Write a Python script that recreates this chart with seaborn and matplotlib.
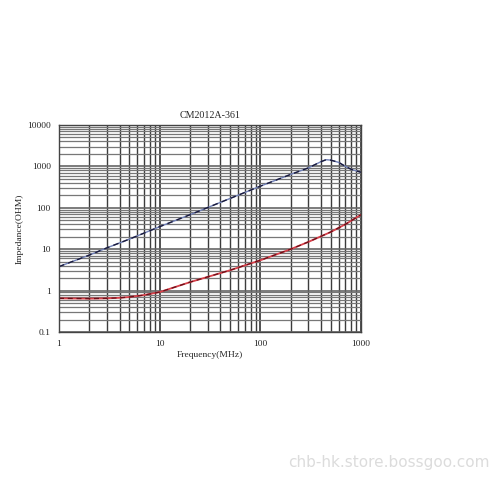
import numpy as np
import pandas as pd
import seaborn as sns
from matplotlib import pyplot as plt
from matplotlib.ticker import FixedLocator, FixedFormatter, LogLocator, NullFormatter

# Impedance curve |Z| (blue) and resistance R (red)
freq_z = [1, 2, 3, 5, 10, 20, 50, 100, 200, 300, 400, 450, 500, 600, 700, 800, 1000]
imp_z = [3.8, 7.2, 10.8, 17.5, 35, 68, 168, 333, 640, 920, 1300, 1450, 1420, 1250, 1000, 850, 720]

freq_r = [1, 2, 3, 4, 5, 7, 10, 20, 50, 100, 200, 300, 500, 700, 1000]
res_r = [0.65, 0.64, 0.65, 0.67, 0.70, 0.78, 0.92, 1.6, 3.1, 5.4, 10, 15, 26, 40, 68]

yticks = [0.1, 1, 10, 100, 1000, 10000]
ytick_labels = ["0.1", "1", "10", "100", "1000", "10000"]
xticks = [1, 10, 100, 1000]
xtick_labels = ["1", "10", "100", "1000"]

sns.set_style("white")
plt.rcParams['font.family'] = ['Liberation Serif', 'DejaVu Serif']

z = pd.DataFrame({"f": freq_z, "v": imp_z})
r = pd.DataFrame({"f": freq_r, "v": res_r})

fig = plt.figure(figsize=(5, 5), dpi=100)
ax = fig.add_axes([0.118, 0.336, 0.604, 0.414])

sns.lineplot(data=z, x="f", y="v", ax=ax, color="#7080b8", linewidth=1.0)
sns.lineplot(data=z, x="f", y="v", ax=ax, color="#1a1a3a", linewidth=1.0,
             linestyle=(0, (4, 3)))
sns.lineplot(data=r, x="f", y="v", ax=ax, color="#d8404a", linewidth=1.3)
sns.lineplot(data=r, x="f", y="v", ax=ax, color="#6a0f18", linewidth=0.9,
             linestyle=(0, (4, 3)))

ax.set_xscale("log")
ax.set_yscale("log")
ax.set_xlim(1, 1000)
ax.set_ylim(0.1, 10000)

ax.xaxis.set_major_locator(FixedLocator(xticks))
ax.xaxis.set_major_formatter(FixedFormatter(xtick_labels))
ax.yaxis.set_major_locator(FixedLocator(yticks))
ax.yaxis.set_major_formatter(FixedFormatter(ytick_labels))
ax.xaxis.set_minor_locator(LogLocator(base=10, subs=np.arange(2, 10)))
ax.yaxis.set_minor_locator(LogLocator(base=10, subs=np.arange(2, 10)))
ax.xaxis.set_minor_formatter(NullFormatter())
ax.yaxis.set_minor_formatter(NullFormatter())

# vertical lines are darker than the horizontal ones in the source
ax.grid(which="major", axis="x", color="#333333", linewidth=1.2)
ax.grid(which="minor", axis="x", color="#3c3c3c", linewidth=1.0)
ax.grid(which="major", axis="y", color="#666666", linewidth=1.2)
ax.grid(which="minor", axis="y", color="#777777", linewidth=0.9)
ax.set_axisbelow(True)
ax.tick_params(which="both", length=0, labelsize=6.8, pad=6)
for s in ax.spines.values():
    s.set_color("#444444")
    s.set_linewidth(1.0)

ax.set_xlabel("Frequency(MHz)", fontsize=6.8, labelpad=2)
ax.set_ylabel("Impedance(OHM)", fontsize=6.8, labelpad=2)
ax.set_title("CM2012A-361", fontsize=7.2, pad=5)

fig.text(0.98, 0.075, "chb-hk.store.bossgoo.com", ha="right", va="center",
         fontsize=11, color="#dcdcdc", family=["DejaVu Sans"])

fig.savefig("out.png", dpi=100)
